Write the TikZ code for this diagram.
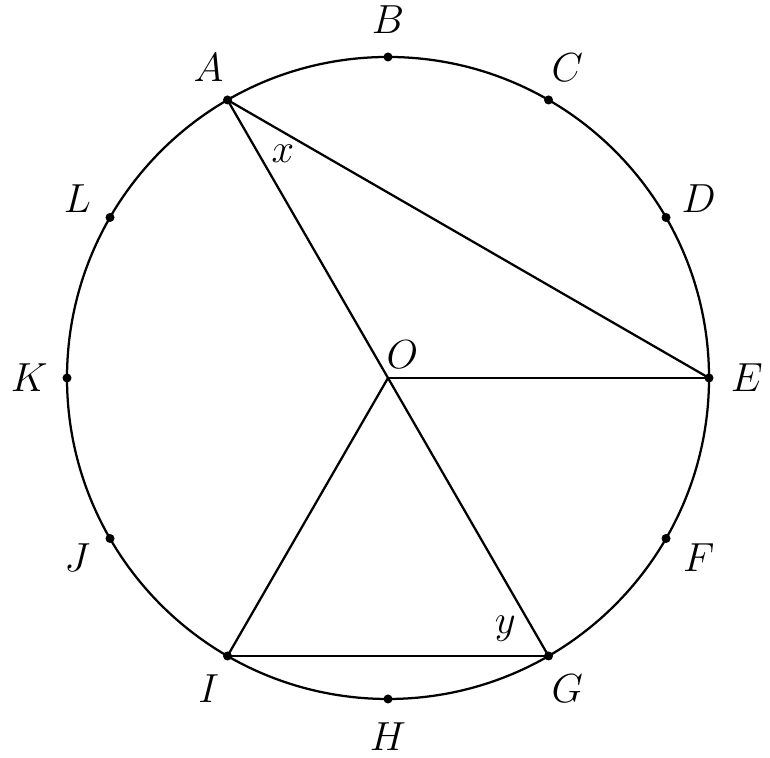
\documentclass[tikz,border=0pt]{standalone}
\usepackage{amsmath, amsfonts}
\usepackage{tikz}

\begin{document}
\begin{tikzpicture} [thick,font=\Large,lbl/.style={inner sep=0pt}]
   \useasboundingbox (-4.835,-4.723) rectangle (4.760,4.710);

   \draw (0,0) circle (4);
   \coordinate (O) at (0,0);
   \foreach \name/\ang in {A/120,B/90,C/60,D/30,E/0,F/-30,G/-60,H/-90,I/-120,J/-150,K/180,L/150}
   {
      \coordinate (\name) at (\ang:4);
      \fill (\name) circle (1.6pt);
      \node[lbl] (l\name) at (\ang:4.47) {$\name$};
   }
   \node[lbl] (lO) at (0.18,0.29) {$O$};
   \node[lbl] (x) at (-1.31,2.80) {$x$};
   \node[lbl] (y) at (1.46,-3.12) {$y$};

   \draw (A) -- (E);
   \draw (A) -- (O);
   \draw (O) -- (E);
   \draw (O) -- (G);
   \draw (O) -- (I);
   \draw (I) -- (G);

\end{tikzpicture}
\end{document}
